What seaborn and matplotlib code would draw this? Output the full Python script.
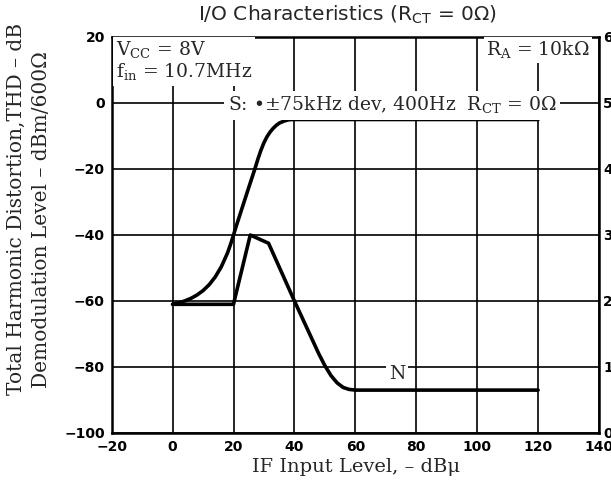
import matplotlib
matplotlib.use("Agg")
import matplotlib.pyplot as plt
import seaborn as sns
import pandas as pd

# ---- data ----
s_x = [0, 2, 4, 6, 8, 10, 12, 14, 16, 18, 19, 20, 21, 23, 25, 27, 28, 29, 30, 31, 32, 33, 34, 35, 36.5, 38, 39.5, 120]
s_y = [-61, -60.56, -59.98, -59.21, -58.19, -56.85, -55.06, -52.7, -49.6, -45.5, -42.9, -40, -37, -31.3, -25.6, -20,
       -17, -14.3, -12, -10.2, -8.8, -7.7, -6.8, -6.1, -5.5, -5.1, -5, -5]
n_x = [0, 20, 20.5, 25.5, 31.5, 40, 42, 44, 46, 48, 50, 52, 54, 56, 58, 60, 120]
n_y = [-61, -61, -59, -40, -42.5, -60, -64, -68, -72, -76, -79.6, -82.6, -84.8, -86.2, -86.8, -87, -87]
x_ticks = [-20, 0, 20, 40, 60, 80, 100, 120, 140]
y_ticks = [20, 0, -20, -40, -60, -80, -100]
right_ticks = [0, 1, 2, 3, 4, 5, 6]

sns.set_theme(style="white")
plt.rcParams["axes.unicode_minus"] = True
plt.rcParams["font.family"] = ["DejaVu Sans"]

fig = plt.figure(figsize=(6.11, 4.83), dpi=100)
ax = fig.add_axes([111.7 / 611, (483 - 433) / 483, (599 - 111.7) / 611, (433 - 37) / 483])

df_s = pd.DataFrame({"x": s_x, "y": s_y})
df_n = pd.DataFrame({"x": n_x, "y": n_y})
sns.lineplot(data=df_s, x="x", y="y", ax=ax, color="black", lw=2.6, sort=False, zorder=5)
sns.lineplot(data=df_n, x="x", y="y", ax=ax, color="black", lw=2.6, sort=False, zorder=5)

ax.set_xlim(-20, 140)
ax.set_ylim(-100, 20)
ax.set_xticks(x_ticks)
ax.set_yticks(y_ticks)
ax.set_xticklabels([str(v).replace("-", "\u2212") for v in x_ticks], fontsize=10, fontweight="bold")
ax.set_yticklabels([str(v).replace("-", "\u2212") for v in y_ticks], fontsize=10, fontweight="bold")
ax.tick_params(length=0, pad=5, colors="black")
ax.grid(True, color="black", lw=1.2)
for sp in ax.spines.values():
    sp.set_color("black")
    sp.set_linewidth(1.8)
ax.set_xlabel("")
ax.set_ylabel("")

# right axis 0..6 (clipped by figure edge)
ax2 = ax.twinx()
ax2.set_ylim(0, 6)
ax2.set_yticks(right_ticks)
ax2.set_yticklabels([str(v) for v in right_ticks], fontsize=10, fontweight="bold")
ax2.tick_params(length=0, pad=3, colors="black")
ax2.grid(False)
for sp in ax2.spines.values():
    sp.set_visible(False)

serif = ["DejaVu Serif"]
ax.text(-18.6, 19.2, "V$_{\\mathregular{CC}}$ = 8V\nf$_{\\mathregular{in}}$ = 10.7MHz", family=serif,
        fontsize=13.5, va="top", ha="left", linespacing=1.05,
        bbox=dict(facecolor="white", edgecolor="none", pad=2), zorder=6)
ax.text(103.0, 16.0, "R$_{\\mathregular{A}}$ = 10k\u03a9", family=serif, fontsize=13.5,
        va="center", ha="left", bbox=dict(facecolor="white", edgecolor="none", pad=1.5), zorder=6)
ax.text(18.2, -0.8, "S: \u2022\u00b175kHz dev, 400Hz  R$_{\\mathregular{CT}}$ = 0\u03a9", family=serif,
        fontsize=13.5, va="center", ha="left",
        bbox=dict(facecolor="white", edgecolor="none", pad=2.5), zorder=6)
ax.text(73.7, -82.0, "N", family=serif, fontsize=13.5, va="center", ha="center",
        bbox=dict(facecolor="white", edgecolor="none", pad=2), zorder=6)

fig.text(347 / 611, 1 - 15 / 483, "I/O Characteristics (R$_{\\mathregular{CT}}$ = 0\u03a9)", fontsize=14.5,
         ha="center", va="center", family=["DejaVu Sans"])
fig.text(356 / 611, 1 - 467 / 483, "IF Input Level, \u2013 dB\u03bc", family=serif, fontsize=14,
         ha="center", va="center")
fig.text(16 / 611, 1 - 209 / 483, "Total Harmonic Distortion,THD \u2013 dB", family=serif, fontsize=14.5,
         ha="center", va="center", rotation=90)
fig.text(42 / 611, 1 - 220 / 483, "Demodulation Level \u2013 dBm/600\u03a9", family=serif, fontsize=14.5,
         ha="center", va="center", rotation=90)

fig.savefig("out.png", dpi=100)
